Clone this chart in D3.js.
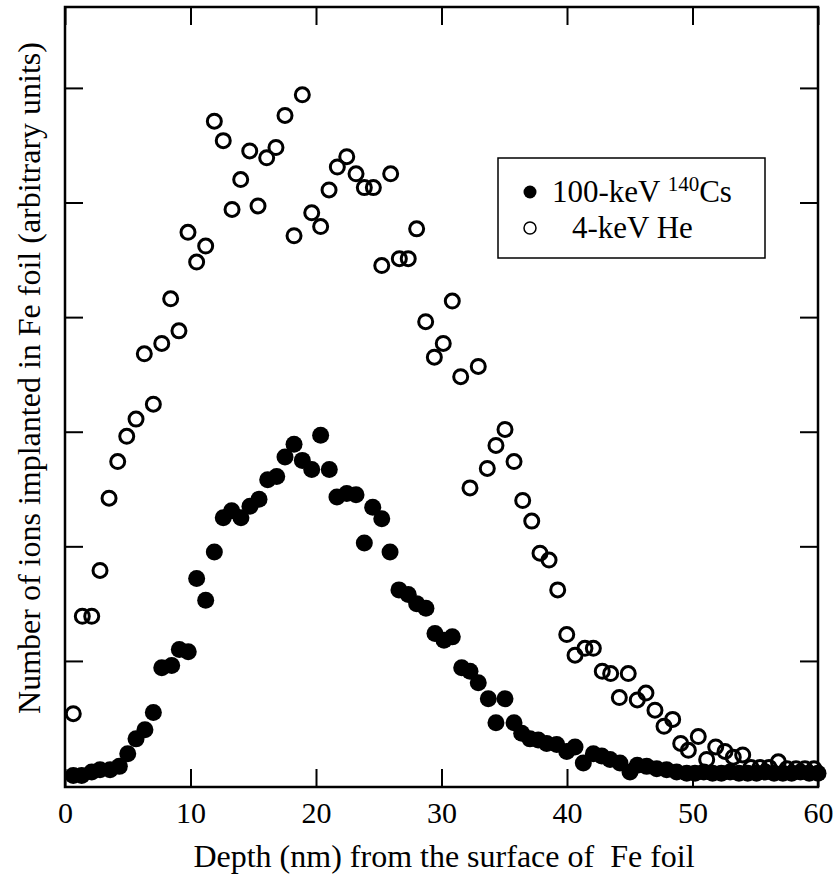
<!DOCTYPE html>
<html lang="en">
<head>
    <meta charset="UTF-8">
    <title>Depth profile of implanted ions in Fe foil</title>
    <style>
body {
    margin: 0;
    background-color: white;
}
svg text {
    font-family: "Liberation Serif", "Times New Roman", serif;
    fill: black;
}
    </style>
</head>
<body>
    <svg id="chart"></svg>
    <script src="https://d3js.org/d3.v7.min.js"></script>
    <script>
// 4-keV He (open circles)
const heDepth = [0.66, 1.38, 2.13, 2.79, 3.51, 4.2, 4.92, 5.66, 6.32, 7.04,
    7.71, 8.42, 9.08, 9.8, 10.49, 11.21, 11.9, 12.61, 13.31, 14.0,
    14.72, 15.38, 16.07, 16.81, 17.53, 18.25, 18.91, 19.66, 20.37, 21.04,
    21.7, 22.45, 23.19, 23.85, 24.57, 25.24, 25.95, 26.64, 27.35, 28.02,
    28.74, 29.43, 30.14, 30.86, 31.53, 32.27, 32.93, 33.65, 34.34, 35.06,
    35.78, 36.47, 37.19, 37.85, 38.57, 39.26, 39.98, 40.64, 41.43, 42.1,
    42.81, 43.48, 44.17, 44.88, 45.6, 46.29, 47.01, 47.73, 48.42, 49.06,
    49.67, 50.46, 51.13, 51.85, 52.59, 53.25, 54.0, 54.66, 55.38, 56.1,
    56.84, 57.53, 58.25, 58.96, 59.68];
const heCount = [0.54, 1.39, 1.39, 1.79, 2.42, 2.74, 2.96, 3.11, 3.68, 3.24,
    3.77, 4.16, 3.88, 4.74, 4.48, 4.62, 5.71, 5.54, 4.94, 5.2,
    5.45, 4.97, 5.39, 5.48, 5.76, 4.71, 5.94, 4.91, 4.79, 5.11,
    5.31, 5.4, 5.25, 5.13, 5.13, 4.45, 5.25, 4.51, 4.51, 4.77,
    3.96, 3.65, 3.77, 4.14, 3.48, 2.51, 3.57, 2.68, 2.88, 3.02,
    2.74, 2.4, 2.22, 1.94, 1.88, 1.62, 1.23, 1.05, 1.11, 1.11,
    0.91, 0.89, 0.68, 0.89, 0.66, 0.72, 0.57, 0.43, 0.49, 0.28,
    0.22, 0.34, 0.14, 0.25, 0.21, 0.16, 0.18, 0.07, 0.07, 0.07,
    0.12, 0.06, 0.06, 0.06, 0.06];

// 100-keV 140Cs (filled circles)
const csDepth = [0.66, 1.33, 2.13, 2.79, 3.59, 4.33, 5.0, 5.66, 6.37, 7.04,
    7.71, 8.5, 9.11, 9.82, 10.49, 11.21, 11.9, 12.61, 13.28, 14.02,
    14.74, 15.46, 16.15, 16.87, 17.53, 18.25, 18.91, 19.66, 20.37, 21.06,
    21.67, 22.45, 23.19, 23.85, 24.52, 25.24, 25.9, 26.61, 27.35, 28.02,
    28.76, 29.48, 30.2, 30.86, 31.61, 32.27, 32.93, 33.73, 34.34, 35.06,
    35.78, 36.39, 37.05, 37.71, 38.38, 39.18, 39.98, 40.64, 41.3, 42.1,
    42.77, 43.43, 44.22, 45.02, 45.6, 46.35, 47.15, 47.94, 48.74, 49.54,
    50.2, 50.9, 51.6, 52.3, 53.0, 53.7, 54.4, 55.1, 55.8, 56.5,
    57.2, 57.9, 58.6, 59.3, 60.0];
const csCount = [0.0, 0.0, 0.03, 0.05, 0.05, 0.08, 0.19, 0.32, 0.4, 0.55,
    0.94, 0.96, 1.1, 1.08, 1.72, 1.53, 1.95, 2.25, 2.31, 2.25,
    2.35, 2.41, 2.58, 2.61, 2.78, 2.89, 2.75, 2.67, 2.97, 2.67,
    2.43, 2.46, 2.45, 2.03, 2.34, 2.24, 1.95, 1.62, 1.58, 1.5,
    1.46, 1.24, 1.18, 1.21, 0.94, 0.91, 0.81, 0.67, 0.46, 0.67,
    0.46, 0.37, 0.32, 0.31, 0.28, 0.27, 0.21, 0.25, 0.11, 0.19,
    0.17, 0.14, 0.11, 0.03, 0.09, 0.08, 0.06, 0.05, 0.03, 0.02,
    0.02, 0.03, 0.02, 0.02, 0.03, 0.02, 0.02, 0.02, 0.03, 0.02,
    0.02, 0.02, 0.03, 0.02, 0.02];

const xTicks = [0, 10, 20, 30, 40, 50, 60];
const yTicks = [1, 2, 3, 4, 5, 6];

const xTitle = "Depth (nm) from the surface of\u00a0 Fe foil";
const yTitle = "Number of ions implanted in Fe foil (arbitrary units)";

const width = 833, height = 878;
const margin = { top: 7, right: 15, bottom: 91, left: 65 };
const plotW = width - margin.left - margin.right;
const plotH = height - margin.top - margin.bottom;

const svg = d3.select("#chart")
    .attr("width", width)
    .attr("height", height);

const x = d3.scaleLinear().domain([0, 60]).range([0, plotW]);
const y = d3.scaleLinear().domain([-0.1, 6.706]).range([plotH, 0]);

const g = svg.append("g")
    .attr("transform", `translate(${margin.left},${margin.top})`);

// ticks point inward on all four sides
const tickLen = 18;
g.append("g")
    .attr("transform", `translate(0,${plotH})`)
    .call(d3.axisBottom(x).tickValues(xTicks).tickSizeInner(-tickLen).tickSizeOuter(0))
    .call(ax => ax.select(".domain").remove())
    .call(ax => ax.selectAll("line").attr("stroke-width", 2))
    .call(ax => ax.selectAll("text")
        .attr("y", 36).attr("dy", 0)
        .attr("font-size", 30));

g.append("g")
    .call(d3.axisTop(x).tickValues(xTicks).tickSizeInner(-tickLen).tickSizeOuter(0).tickFormat(""))
    .call(ax => ax.select(".domain").remove())
    .call(ax => ax.selectAll("line").attr("stroke-width", 2));

g.append("g")
    .call(d3.axisLeft(y).tickValues(yTicks).tickSizeInner(-tickLen).tickSizeOuter(0).tickFormat(""))
    .call(ax => ax.select(".domain").remove())
    .call(ax => ax.selectAll("line").attr("stroke-width", 2));

g.append("g")
    .attr("transform", `translate(${plotW},0)`)
    .call(d3.axisRight(y).tickValues(yTicks).tickSizeInner(-tickLen).tickSizeOuter(0).tickFormat(""))
    .call(ax => ax.select(".domain").remove())
    .call(ax => ax.selectAll("line").attr("stroke-width", 2));

// frame
g.append("rect")
    .attr("width", plotW)
    .attr("height", plotH)
    .attr("fill", "none")
    .attr("stroke", "black")
    .attr("stroke-width", 2.5);

// data points
g.append("g")
    .selectAll("circle")
    .data(csDepth.map((d, i) => [d, csCount[i]]))
    .join("circle")
    .attr("cx", d => x(d[0]))
    .attr("cy", d => y(d[1]))
    .attr("r", 8.5)
    .attr("fill", "black");

g.append("g")
    .selectAll("circle")
    .data(heDepth.map((d, i) => [d, heCount[i]]))
    .join("circle")
    .attr("cx", d => x(d[0]))
    .attr("cy", d => y(d[1]))
    .attr("r", 7)
    .attr("fill", "none")
    .attr("stroke", "black")
    .attr("stroke-width", 3);

// axis titles
svg.append("text")
    .attr("x", 444)
    .attr("y", 867)
    .attr("text-anchor", "middle")
    .attr("font-size", 32)
    .text(xTitle);

svg.append("text")
    .attr("transform", "translate(40,378) rotate(-90)")
    .attr("text-anchor", "middle")
    .attr("font-size", 32)
    .text(yTitle);

// legend
const leg = svg.append("g");
leg.append("rect")
    .attr("x", 498).attr("y", 158)
    .attr("width", 267).attr("height", 100)
    .attr("fill", "white")
    .attr("stroke", "black")
    .attr("stroke-width", 1.5);

leg.append("circle")
    .attr("cx", 530).attr("cy", 192).attr("r", 6.5)
    .attr("fill", "black");
leg.append("circle")
    .attr("cx", 530).attr("cy", 228).attr("r", 6)
    .attr("fill", "none").attr("stroke", "black").attr("stroke-width", 1.5);

const t1 = leg.append("text")
    .attr("x", 552).attr("y", 202)
    .attr("font-size", 31);
t1.append("tspan").text("100-keV ");
t1.append("tspan").attr("font-size", 21).attr("dy", -11).text("140");
t1.append("tspan").attr("dy", 11).text("Cs");

leg.append("text")
    .attr("x", 572).attr("y", 238)
    .attr("font-size", 31)
    .text("4-keV He");
    </script>
</body>
</html>
